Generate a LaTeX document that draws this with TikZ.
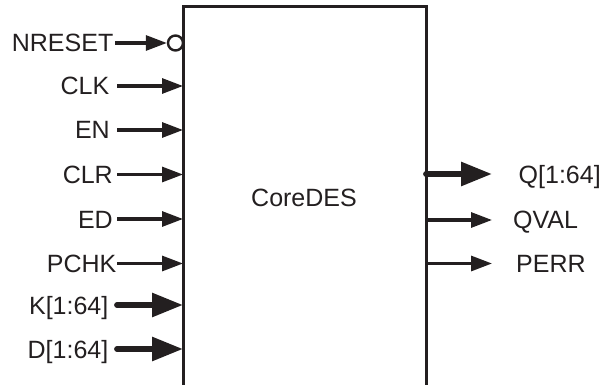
\documentclass[tikz,border=0pt]{standalone}
\usepackage{fontspec}
\setmainfont{Liberation Sans}
\usetikzlibrary{arrows.meta}
\definecolor{ink}{RGB}{35,31,32}
\tikzset{
  lbl/.style={inner sep=0pt, font=\fontsize{25}{29}\selectfont, text=ink},
  thinarrow/.style={draw=ink, line width=3.1pt, -{Triangle[length=21pt,width=15pt]}},
  busarrow/.style={draw=ink, line width=5.8pt, line cap=round, -{Triangle[length=31pt,width=23pt]}},
  boxline/.style={draw=ink, line width=3pt},
}
\begin{document}
\begin{tikzpicture}[x=1pt,y=-1pt]
\useasboundingbox (0,0) rectangle (600,385);
% box
\draw[boxline] (183,392) -- (183,7) -- (426,7) -- (426,392);
\node[lbl] (core) at (304,198) {CoreDES};
% inputs
\node[lbl, anchor=base east] (nreset) at (113.5,52) {NRESET};
\node[lbl, anchor=base east] (clk) at (109.5,95) {CLK};
\node[lbl, anchor=base east] (en) at (110,139) {EN};
\node[lbl, anchor=base east] (clr) at (113,183.5) {CLR};
\node[lbl, anchor=base east] (ed) at (113,228) {ED};
\node[lbl, anchor=base east] (pchk) at (116.5,272.5) {PCHK};
\node[lbl, anchor=base east] (k) at (108.5,314) {K[1:64]};
\node[lbl, anchor=base east] (d) at (108.5,358) {D[1:64]};
% ports
\node[draw=ink, line width=2.4pt, circle, minimum size=15pt, inner sep=0pt] (inv) at (175.5,43) {};
\coordinate (nreset0) at (115,43);
\coordinate (clk0) at (117,86);
\coordinate (clk1) at (183,86);
\coordinate (en0) at (117,130);
\coordinate (en1) at (183,130);
\coordinate (clr0) at (117,174.5);
\coordinate (clr1) at (183,174.5);
\coordinate (ed0) at (117,219);
\coordinate (ed1) at (183,219);
\coordinate (pchk0) at (117,263.5);
\coordinate (pchk1) at (183,263.5);
\coordinate (k0) at (117,305);
\coordinate (k1) at (183,305);
\coordinate (d0) at (117,349);
\coordinate (d1) at (183,349);
\draw[thinarrow] (nreset0) -- (inv.west);
\draw[thinarrow] (clk0) -- (clk1);
\draw[thinarrow] (en0) -- (en1);
\draw[thinarrow] (clr0) -- (clr1);
\draw[thinarrow] (ed0) -- (ed1);
\draw[thinarrow] (pchk0) -- (pchk1);
\draw[busarrow] (k0) -- (k1);
\draw[busarrow] (d0) -- (d1);
% outputs
\coordinate (q0) at (426,174);
\coordinate (q1) at (492,174);
\coordinate (qv0) at (426,220);
\coordinate (qv1) at (492,220);
\coordinate (pe0) at (426,263.5);
\coordinate (pe1) at (492,263.5);
\node[lbl, anchor=base west] (q) at (518.5,183) {Q[1:64]};
\node[lbl, anchor=base west] (qval) at (513,229) {QVAL};
\node[lbl, anchor=base west] (perr) at (516,272.5) {PERR};
\draw[busarrow] (q0) -- (q1);
\draw[thinarrow] (qv0) -- (qv1);
\draw[thinarrow] (pe0) -- (pe1);
\end{tikzpicture}
\end{document}
